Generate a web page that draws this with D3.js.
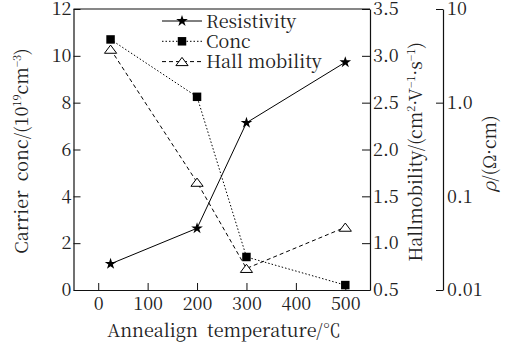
<!DOCTYPE html>
<html>
<head>
<meta charset="utf-8">
<script src="https://cdn.jsdelivr.net/npm/d3@7"></script>
</head>
<body style="margin:0">
<svg id="chart" width="512" height="348"></svg>
<script>
// Annealing temperatures (°C)
const temperatures = [25, 200, 300, 500];
// Resistivity, Ω·cm (log axis)
const resistivity = [0.019, 0.0456, 0.61, 2.7];
// Carrier concentration, 10^19 cm^-3 (left axis)
const conc = [10.7, 8.25, 1.41, 0.21];
// Hall mobility, cm²·V⁻¹·s⁻¹ (inner right axis)
const hallMobility = [3.07, 1.65, 0.73, 1.17];

const xTicks = [0, 100, 200, 300, 400, 500];
const concTicks = [0, 2, 4, 6, 8, 10, 12];
const hallTicks = [0.5, 1.0, 1.5, 2.0, 2.5, 3.0, 3.5];
const rhoTicks = [10, 1, 0.1, 0.01];
const rhoTickLabels = ["10", "1.0", "0.1", "0.01"];

const FONT = '"Noto Serif CJK SC", "Liberation Serif", sans-serif';
const FS = 18;

const svg = d3.select("#chart");
const L = 73.5, R = 370, T = 9, B = 290, R2 = 443;

const x = d3.scaleLinear().domain([-50, 550]).range([L, R]);
const yConc = d3.scaleLinear().domain([0, 12]).range([B, T]);
const yHall = d3.scaleLinear().domain([0.5, 3.5]).range([B, T]);
const yRho = d3.scaleLog().domain([0.01, 10]).range([B, T]);

function styleAxis(g) {
  g.attr("font-family", null).attr("font-size", null);
  g.selectAll("path.domain").attr("stroke", "#111").attr("stroke-width", 1.2);
  g.selectAll(".tick line").attr("stroke", "#111").attr("stroke-width", 1);
  g.selectAll("text").attr("font-size", FS).attr("font-family", FONT).attr("fill", "#222");
}

// frame top
svg.append("line").attr("x1", L).attr("x2", R).attr("y1", T).attr("y2", T)
  .attr("stroke", "#111").attr("stroke-width", 1.2);

// bottom axis
svg.append("g").attr("transform", `translate(0,${B})`)
  .call(d3.axisBottom(x).tickValues(xTicks).tickSizeInner(-7).tickSizeOuter(0).tickPadding(7))
  .call(styleAxis);

// left axis (carrier concentration)
svg.append("g").attr("transform", `translate(${L},0)`)
  .call(d3.axisLeft(yConc).tickValues(concTicks).tickSizeInner(-7).tickSizeOuter(0).tickPadding(2))
  .call(styleAxis);

// inner right axis (Hall mobility)
svg.append("g").attr("transform", `translate(${R},0)`)
  .call(d3.axisRight(yHall).tickValues(hallTicks).tickFormat(d3.format(".1f"))
    .tickSizeInner(-8).tickSizeOuter(0).tickPadding(3))
  .call(styleAxis);

// outer right axis (resistivity, log)
const rhoAxis = svg.append("g").attr("transform", `translate(${R2},0)`)
  .call(d3.axisRight(yRho).tickValues(rhoTicks).tickFormat((d, i) => rhoTickLabels[i])
    .tickSizeInner(-7).tickSizeOuter(0).tickPadding(4))
  .call(styleAxis);
rhoAxis.selectAll(".tick").filter(d => d === 0.1).select("line").remove();

// axis titles: each part is [text, superscript?, italic?]
function title(parts, transform) {
  const t = svg.append("text").attr("transform", transform)
    .attr("text-anchor", "middle").attr("font-size", FS)
    .attr("font-family", FONT).attr("fill", "#222");
  let up = false;
  parts.forEach(([s, sup, italic]) => {
    const sp = t.append("tspan").attr("font-family", FONT).text(s);
    if (sup && !up) { sp.attr("dy", -7).attr("font-size", 11); up = true; }
    else if (sup) { sp.attr("font-size", 11); }
    else if (up) { sp.attr("dy", 7); up = false; }
    if (italic) sp.attr("font-style", "italic");
  });
  return t;
}

title([["Carrier\u00a0\u00a0conc/(10"], ["19", true], ["cm"], ["−3", true], [")"]],
  "translate(28,151) rotate(-90)");
title([["Hallmobility/(cm"], ["2", true], ["·V"], ["−1", true], ["·s"], ["−1", true], [")"]],
  "translate(422,152) rotate(-90)");
title([["ρ", false, true], ["/(Ω·cm)"]], "translate(496,154) rotate(-90)");
title([["Annealign\u00a0\u00a0temperature/℃"]], "translate(224,337)");

// markers
const star = d3.symbol().type(d3.symbolStar).size(42);
const square = d3.symbol().type(d3.symbolSquare).size(72);
const triangle = "M0,-4.2L6.1,4L-6.1,4Z";

const series = [
  { name: "Resistivity", values: resistivity, y: yRho, dash: null,
    marker: g => g.append("path").attr("d", star()).attr("fill", "#000") },
  { name: "Conc", values: conc, y: yConc, dash: "1.5,2",
    marker: g => g.append("path").attr("d", square()).attr("fill", "#000") },
  { name: "Hall mobility", values: hallMobility, y: yHall, dash: "4,3",
    marker: g => g.append("path").attr("d", triangle).attr("fill", "#fff")
      .attr("stroke", "#000").attr("stroke-width", 1) }
];

series.forEach(s => {
  const pts = temperatures.map((t, i) => [x(t), s.y(s.values[i])]);
  svg.append("path").attr("d", d3.line()(pts)).attr("fill", "none")
    .attr("stroke", "#000").attr("stroke-width", 1)
    .attr("stroke-dasharray", s.dash);
});
series.forEach(s => {
  temperatures.forEach((t, i) => {
    const g = svg.append("g").attr("transform", `translate(${x(t)},${s.y(s.values[i])})`);
    s.marker(g);
  });
});

// legend
const legend = svg.append("g").attr("transform", "translate(162,21)");
series.forEach((s, i) => {
  const row = legend.append("g").attr("transform", `translate(0,${i * 20.3})`);
  row.append("line").attr("x1", 0).attr("x2", 40).attr("y1", 0).attr("y2", 0)
    .attr("stroke", "#000").attr("stroke-width", 1).attr("stroke-dasharray", s.dash);
  const m = row.append("g").attr("transform", "translate(20,0)");
  s.marker(m);
  row.append("text").attr("x", 44).attr("y", 6.5).attr("font-size", FS)
    .attr("font-family", FONT).attr("fill", "#222").text(s.name);
});
</script>
</body>
</html>
